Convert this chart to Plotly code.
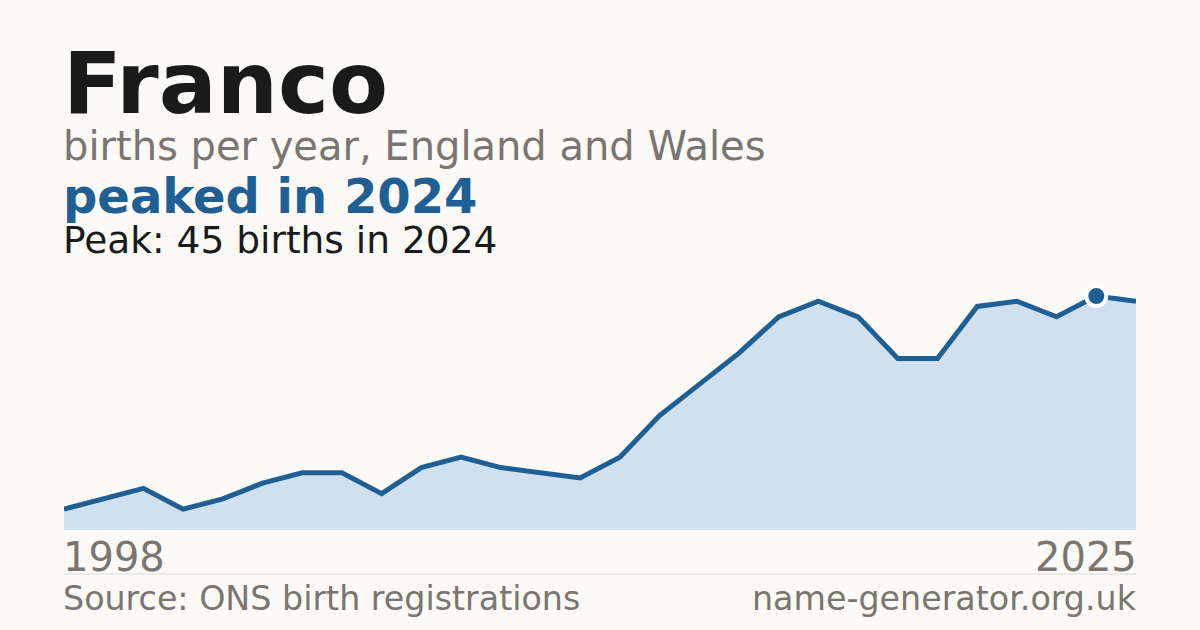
"""Franco: births per year in England and Wales, 1998-2025."""
import plotly.graph_objects as go

YEARS = list(range(1998, 2026))
BIRTHS = [4, 6, 8, 4, 6, 9, 11, 11, 7, 12, 14, 12, 11, 10, 14,
          22, 28, 34, 41, 44, 41, 33, 33, 43, 44, 41, 45, 44]
PEAK_YEAR = 2024
PEAK_VALUE = 45

NAME = "Franco"
SUBTITLE = "births per year, England and Wales"
HEADLINE = "peaked in 2024"
PEAK_LINE = "Peak: 45 births in 2024"
SOURCE = "Source: ONS birth registrations"
SITE = "name-generator.org.uk"

BG = "#fbfaf6"
BLUE = "#1f5f94"
FILL = "#d0e0ef"
GREY = "#7a756e"
INK = "#1a1a1a"
FONT = "DejaVu Sans"

# plot area in pixels: x 64..1136, y 270..530
W, H = 1200, 630
TOP, BOTTOM = 270, 530


def py(pixel_y: float) -> float:
    """Convert a pixel row to paper y for annotations outside the plot."""
    return (BOTTOM - pixel_y) / (BOTTOM - TOP)


fig = go.Figure()
fig.add_trace(
    go.Scatter(
        x=YEARS,
        y=BIRTHS,
        mode="lines",
        fill="tozeroy",
        fillcolor=FILL,
        line=dict(color=BLUE, width=5),
        hoverinfo="skip",
    )
)
fig.add_trace(
    go.Scatter(
        x=[PEAK_YEAR],
        y=[PEAK_VALUE],
        mode="markers",
        marker=dict(size=20, color=BLUE, line=dict(color="white", width=4)),
        hoverinfo="skip",
    )
)


def text(s, y, size, color, bold=False, x=0, anchor="left"):
    fig.add_annotation(
        text=f"<b>{s}</b>" if bold else s,
        xref="paper", yref="paper", x=x, y=py(y),
        xanchor=anchor, yanchor="bottom", showarrow=False,
        xshift=-2 if anchor == "left" else 2, borderpad=0,
        font=dict(family=FONT, size=size, color=color),
    )


text(NAME, 134, 86, INK, bold=True)
text(SUBTITLE, 170, 40, GREY)
text(HEADLINE, 225, 48, BLUE, bold=True)
text(PEAK_LINE, 263, 37.5, INK)
text(str(YEARS[0]), 581, 40, GREY)
text(str(YEARS[-1]), 581, 40, GREY, x=1, anchor="right")
text(SOURCE, 619, 33.3, GREY)
text(SITE, 619, 33.3, GREY, x=1, anchor="right")

fig.add_shape(
    type="line", xref="paper", yref="paper",
    x0=0, x1=1, y0=py(574), y1=py(574),
    line=dict(color="#dddad3", width=1),
)

fig.update_layout(
    width=W,
    height=H,
    margin=dict(l=64, r=64, t=TOP, b=H - BOTTOM),
    paper_bgcolor=BG,
    plot_bgcolor=BG,
    showlegend=False,
    xaxis=dict(range=[YEARS[0], YEARS[-1]], visible=False, fixedrange=True),
    yaxis=dict(range=[0, 50], visible=False, fixedrange=True),
)

fig.write_html(
    "out.html",
    config={"displayModeBar": False},
    post_script="document.body.style.margin='0';"
                f"document.body.style.background='{BG}';",
)
